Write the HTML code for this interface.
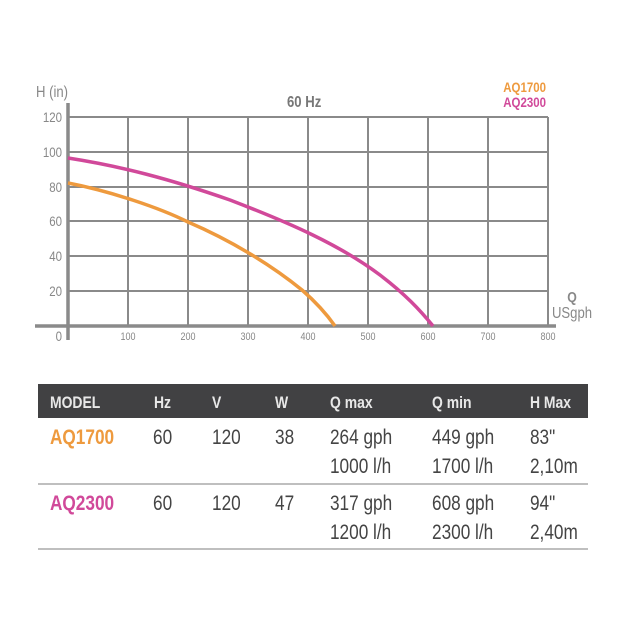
<!DOCTYPE html>
<html><head><meta charset="utf-8"><style>
body{margin:0;background:#fff;width:630px;height:630px;overflow:hidden;font-family:"Liberation Sans",sans-serif;}
.c{transform-box:fill-box;transform-origin:left center;transform:scaleX(.82);}
.m{transform-box:fill-box;transform-origin:center;transform:scaleX(.82);}
.r{transform-box:fill-box;transform-origin:right center;transform:scaleX(.82);}
</style></head><body>
<svg width="630" height="630" xmlns="http://www.w3.org/2000/svg" style="position:absolute;left:0;top:0">
<g stroke="#8a8a8a" stroke-width="2" fill="none">
<line x1="68" y1="117" x2="548" y2="117"/>
<line x1="68" y1="152" x2="548" y2="152"/>
<line x1="68" y1="187" x2="548" y2="187"/>
<line x1="68" y1="221" x2="548" y2="221"/>
<line x1="68" y1="256" x2="548" y2="256"/>
<line x1="68" y1="291" x2="548" y2="291"/>
<line x1="128" y1="117" x2="128" y2="326"/>
<line x1="188" y1="117" x2="188" y2="326"/>
<line x1="248" y1="117" x2="248" y2="326"/>
<line x1="308" y1="117" x2="308" y2="326"/>
<line x1="368" y1="117" x2="368" y2="326"/>
<line x1="428" y1="117" x2="428" y2="326"/>
<line x1="488" y1="117" x2="488" y2="326"/>
<line x1="548" y1="117" x2="548" y2="326"/>
</g>
<line x1="35" y1="326" x2="556" y2="326" stroke="#8a8a8a" stroke-width="3.5"/>
<line x1="68" y1="103" x2="68" y2="340" stroke="#8a8a8a" stroke-width="3.5"/>
<path d="M68,183 C110,191 160,208 188,222 C230,240 270,264 302,290 C318,304 328,316 335,326" stroke="#ee9a3e" stroke-width="3.5" fill="none"/>
<path d="M68,158 C120,166 170,179 230,200 C290,223 340,245 380,275 C405,294 420,310 433,326" stroke="#d1499a" stroke-width="3.5" fill="none"/>
<g fill="#888" font-size="14" text-anchor="end">
<text class="r" x="62" y="122">120</text><text class="r" x="62" y="157">100</text><text class="r" x="62" y="192">80</text>
<text class="r" x="62" y="226">60</text><text class="r" x="62" y="261">40</text><text class="r" x="62" y="296">20</text>
<text class="r" x="62" y="341">0</text>
</g>
<g fill="#888" font-size="11" text-anchor="middle">
<text class="m" x="128" y="340">100</text><text class="m" x="188" y="340">200</text><text class="m" x="248" y="340">300</text>
<text class="m" x="308" y="340">400</text><text class="m" x="368" y="340">500</text><text class="m" x="428" y="340">600</text>
<text class="m" x="488" y="340">700</text><text class="m" x="548" y="340">800</text>
</g>
<text class="c" x="36" y="97" fill="#888" font-size="16">H (in)</text>
<text class="c" x="287" y="107" fill="#777" font-size="16" font-weight="bold">60 Hz</text>
<text class="m" x="572" y="302" fill="#888" font-size="15" font-weight="bold" text-anchor="middle">Q</text>
<text class="m" x="572" y="318" fill="#888" font-size="16" text-anchor="middle">USgph</text>
<text class="r" x="546" y="92" fill="#ee9a3e" font-size="14" font-weight="bold" text-anchor="end">AQ1700</text>
<text class="r" x="546" y="107" fill="#d1499a" font-size="14" font-weight="bold" text-anchor="end">AQ2300</text>
<rect x="38" y="384" width="550" height="34" fill="#414143"/>
<g fill="#e8e8e8" font-size="17" font-weight="bold">
<text class="c" x="50" y="408">MODEL</text><text class="c" x="154" y="408">Hz</text><text class="c" x="212" y="408">V</text>
<text class="c" x="275" y="408">W</text><text class="c" x="330" y="408">Q max</text><text class="c" x="432" y="408">Q min</text><text class="c" x="530" y="408">H Max</text>
</g>
<g fill="#444" font-size="21">
<text class="c" x="153" y="444">60</text><text class="c" x="212" y="444">120</text><text class="c" x="275" y="444">38</text>
<text class="c" x="330" y="444">264 gph</text><text class="c" x="432" y="444">449 gph</text><text class="c" x="530" y="444">83"</text>
<text class="c" x="330" y="473">1000 l/h</text><text class="c" x="432" y="473">1700 l/h</text><text class="c" x="530" y="473">2,10m</text>
<text class="c" x="153" y="510">60</text><text class="c" x="212" y="510">120</text><text class="c" x="275" y="510">47</text>
<text class="c" x="330" y="510">317 gph</text><text class="c" x="432" y="510">608 gph</text><text class="c" x="530" y="510">94"</text>
<text class="c" x="330" y="539">1200 l/h</text><text class="c" x="432" y="539">2300 l/h</text><text class="c" x="530" y="539">2,40m</text>
</g>
<text class="c" x="50" y="444" fill="#ee9a3e" font-size="21" font-weight="bold">AQ1700</text>
<text class="c" x="50" y="510" fill="#d1499a" font-size="21" font-weight="bold">AQ2300</text>
<line x1="38" y1="484" x2="588" y2="484" stroke="#aaa" stroke-width="1.5"/>
<line x1="38" y1="549" x2="588" y2="549" stroke="#aaa" stroke-width="1.5"/>
</svg>
</body></html>
